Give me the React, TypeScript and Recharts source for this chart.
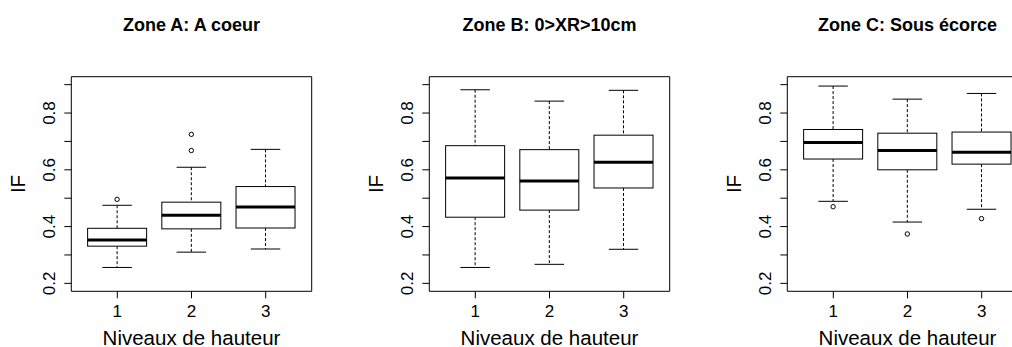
import { ComposedChart, Bar, XAxis, YAxis } from "recharts";

const FONT = "'Liberation Sans', Arial, Helvetica, sans-serif";

const levels = ["1", "2", "3"];
const yTicks = [0.2, 0.3, 0.4, 0.5, 0.6, 0.7, 0.8, 0.9];
const yDomain = [0.172, 0.928];

// five-number summaries per level: [lower whisker, Q1, median, Q3, upper whisker]
const zoneAStats = [
  [0.256, 0.331, 0.353, 0.394, 0.475],
  [0.31, 0.392, 0.44, 0.486, 0.609],
  [0.321, 0.395, 0.469, 0.541, 0.672],
];
const zoneAOutliers = [[0.496], [0.668, 0.725], []];

const zoneBStats = [
  [0.256, 0.433, 0.571, 0.685, 0.882],
  [0.267, 0.458, 0.561, 0.671, 0.842],
  [0.32, 0.536, 0.627, 0.722, 0.88],
];
const zoneBOutliers = [[], [], []];

const zoneCStats = [
  [0.489, 0.638, 0.696, 0.742, 0.895],
  [0.416, 0.6, 0.668, 0.729, 0.849],
  [0.461, 0.62, 0.662, 0.733, 0.869],
];
const zoneCOutliers = [[0.47], [0.374], [0.428]];

type Row = { level: string; lo: number; q1: number; med: number; q3: number; hi: number; out: number[] };

function buildRows(stats: number[][], outliers: number[][]): Row[] {
  return levels.map((level, i) => ({
    level,
    lo: stats[i][0],
    q1: stats[i][1],
    med: stats[i][2],
    q3: stats[i][3],
    hi: stats[i][4],
    out: outliers[i],
  }));
}

// bar spans [lo, hi]; everything else is placed with the same px-per-unit
function BoxShape(props: any) {
  const { x, y, width, height, payload } = props;
  const { lo, q1, med, q3, hi, out } = payload as Row;
  const k = height / (hi - lo);
  const py = (v: number) => y + (hi - v) * k;
  const cx = x + width / 2;
  const cap = width / 4;
  return (
    <g>
      <line x1={cx} x2={cx} y1={py(hi)} y2={py(q3)} stroke="#000" strokeDasharray="3 2" />
      <line x1={cx} x2={cx} y1={py(q1)} y2={py(lo)} stroke="#000" strokeDasharray="3 2" />
      <line x1={cx - cap} x2={cx + cap} y1={py(hi)} y2={py(hi)} stroke="#000" />
      <line x1={cx - cap} x2={cx + cap} y1={py(lo)} y2={py(lo)} stroke="#000" />
      <rect x={x} y={py(q3)} width={width} height={py(q1) - py(q3)} fill="#fff" stroke="#000" />
      <line x1={x} x2={x + width} y1={py(med)} y2={py(med)} stroke="#000" strokeWidth={3} />
      {out.map((v, i) => (
        <circle key={i} cx={cx} cy={py(v)} r={2.2} fill="none" stroke="#000" />
      ))}
    </g>
  );
}

function YTick(props: any) {
  const { x, y, payload } = props;
  const v = payload.value as number;
  if (Math.round(v * 10) % 2 !== 0) return <g />;
  const bx = x - 9.3;
  return (
    <text x={bx} y={y} transform={`rotate(-90, ${bx}, ${y})`} textAnchor="middle" fontSize={17} fontFamily={FONT} fill="#000">
      {v.toFixed(1)}
    </text>
  );
}

function XTick(props: any) {
  const { x, y, payload } = props;
  return (
    <text x={x} y={y + 18.4} textAnchor="middle" fontSize={17} fontFamily={FONT} fill="#000">
      {payload.value}
    </text>
  );
}

interface PanelProps {
  title: string;
  stats: number[][];
  outliers: number[][];
  left: number;
}

function Panel({ title, stats, outliers, left }: PanelProps) {
  const data = buildRows(stats, outliers);
  return (
    <div style={{ position: "absolute", left, top: 0 }}>
      <ComposedChart width={358} height={347} data={data} margin={{ top: 75.7, right: 45.3, bottom: 0, left: 0 }} barCategoryGap="10%">
        <XAxis
          dataKey="level"
          height={55.7}
          padding={{ left: 8.9, right: 8.9 }}
          interval={0}
          tickSize={7}
          tickMargin={0}
          axisLine={{ stroke: "#000" }}
          tickLine={{ stroke: "#000" }}
          tick={(p: any) => <XTick {...p} />}
          label={(p: any) => {
            const vb = p.viewBox;
            return (
              <text x={vb.x + vb.width / 2} y={vb.y + 53.2} textAnchor="middle" fontSize={20.5} fontFamily={FONT} fill="#000">
                Niveaux de hauteur
              </text>
            );
          }}
        />
        <XAxis
          xAxisId="top"
          dataKey="level"
          orientation="top"
          height={1}
          tick={false}
          tickLine={false}
          axisLine={{ stroke: "#000" }}
          label={(p: any) => {
            const vb = p.viewBox;
            return (
              <text x={vb.x + vb.width / 2} y={vb.y + vb.height - 46} textAnchor="middle" fontSize={18} fontWeight="bold" fontFamily={FONT} fill="#000">
                {title}
              </text>
            );
          }}
        />
        <YAxis
          type="number"
          domain={yDomain}
          ticks={yTicks}
          allowDataOverflow
          interval={0}
          width={71.3}
          tickSize={7}
          tickMargin={0}
          axisLine={{ stroke: "#000" }}
          tickLine={{ stroke: "#000" }}
          tick={(p: any) => <YTick {...p} />}
          label={(p: any) => {
            const vb = p.viewBox;
            const lx = vb.x + 25;
            const ly = vb.y + vb.height / 2;
            return (
              <text x={lx} y={ly} transform={`rotate(-90, ${lx}, ${ly})`} textAnchor="middle" fontSize={20.5} fontFamily={FONT} fill="#000">
                IF
              </text>
            );
          }}
        />
        <YAxis yAxisId="right" orientation="right" type="number" domain={yDomain} allowDataOverflow width={1} tick={false} tickLine={false} axisLine={{ stroke: "#000" }} />
        <Bar dataKey={(d: Row) => [d.lo, d.hi]} shape={BoxShape} isAnimationActive={false} />
      </ComposedChart>
    </div>
  );
}

export default function App() {
  return (
    <div style={{ position: "relative", width: 1012, height: 347, overflow: "hidden", background: "#fff" }}>
      <style>{`body { margin: 0; }`}</style>
      <Panel title="Zone A: A coeur" stats={zoneAStats} outliers={zoneAOutliers} left={0} />
      <Panel title="Zone B: 0>XR>10cm" stats={zoneBStats} outliers={zoneBOutliers} left={358} />
      <Panel title="Zone C: Sous écorce" stats={zoneCStats} outliers={zoneCOutliers} left={716.4} />
    </div>
  );
}
